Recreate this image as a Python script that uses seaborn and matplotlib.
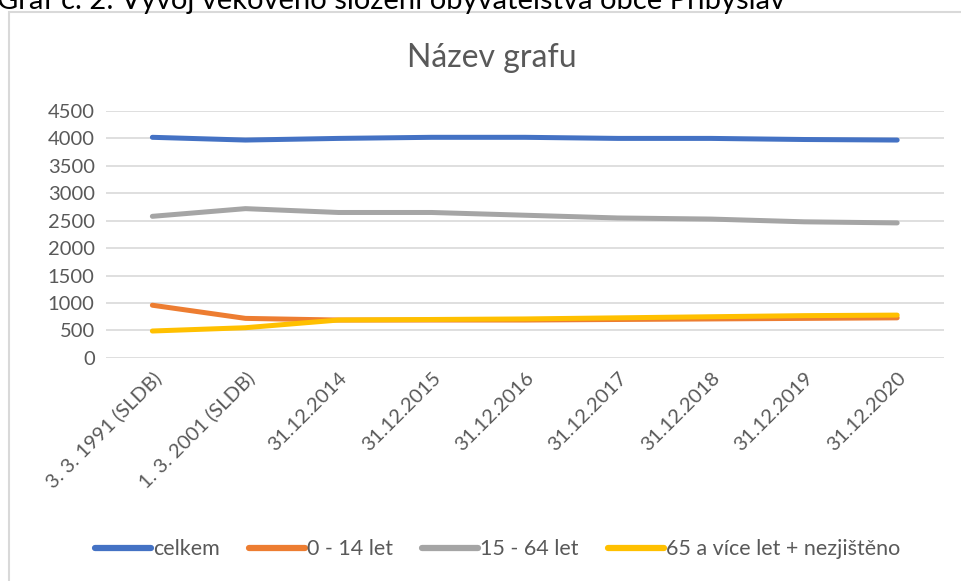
import pandas as pd
import matplotlib.pyplot as plt
import seaborn as sns
from matplotlib.patches import Rectangle

# data
dates = ["3. 3. 1991 (SLDB)", "1. 3. 2001 (SLDB)", "31.12.2014", "31.12.2015",
         "31.12.2016", "31.12.2017", "31.12.2018", "31.12.2019", "31.12.2020"]
celkem = [4020, 3970, 4000, 4020, 4020, 4000, 4000, 3980, 3970]
deti = [960, 720, 690, 690, 690, 700, 710, 720, 730]
produktivni = [2580, 2720, 2650, 2650, 2600, 2550, 2530, 2480, 2460]
senioři = [490, 550, 690, 700, 710, 730, 750, 770, 780]

series = ["celkem", "0 - 14 let", "15 - 64 let", "65 a více let + nezjištěno"]
colors = ["#4472C4", "#ED7D31", "#A5A5A5", "#FFC000"]

rows = []
for name, vals in zip(series, [celkem, deti, produktivni, senioři]):
    for i, v in enumerate(vals):
        rows.append({"datum": i, "pocet": v, "rada": name})
df = pd.DataFrame(rows)

sns.set_style("white")
plt.rcParams["font.family"] = ["Lato", "DejaVu Sans"]

fig = plt.figure(figsize=(9.62, 5.81), dpi=100)
ax = fig.add_axes([0.110, 0.384, 0.871, 0.425])

sns.lineplot(data=df, x="datum", y="pocet", hue="rada", palette=colors,
             linewidth=3.6, ax=ax, legend=False, solid_capstyle="round")

ax.set_xlim(-0.5, 8.5)
ax.set_ylim(0, 4500)
ax.set_yticks(range(0, 4501, 500))
ax.set_xticks(range(len(dates)))
ax.set_xticklabels(dates, rotation=45, ha="right", rotation_mode="anchor")
ax.tick_params(axis="both", length=0, labelsize=14.5, colors="#595959", pad=8)
ax.grid(axis="y", color="#d9d9d9", linewidth=1.2)
ax.set_axisbelow(True)
for s in ax.spines.values():
    s.set_visible(False)
ax.set_xlabel("")
ax.set_ylabel("")

fig.text(0.511, 0.9, "Název grafu", ha="center", va="center", fontsize=23, color="#595959")

# legend
handles = [plt.Line2D([0], [0], color=c, linewidth=4.5, solid_capstyle="round") for c in colors]
fig.legend(handles, series, loc="center", bbox_to_anchor=(0.517, 0.055), ncol=4,
           frameon=False, fontsize=15.5, handlelength=2.6, handletextpad=0.1,
           columnspacing=1.35, labelcolor="#595959")

# chart border and cut-off caption above
fig.patches.append(Rectangle((0.009, -0.01), 1.0, 0.99, transform=fig.transFigure,
                             fill=False, edgecolor="#d9d9d9", linewidth=1.5))
fig.text(-0.003, 0.984, "Graf č. 2: Vývoj věkového složení obyvatelstva obce Přibyslav",
         ha="left", va="baseline", fontsize=21, color="black")

fig.savefig("out.png", dpi=100)
